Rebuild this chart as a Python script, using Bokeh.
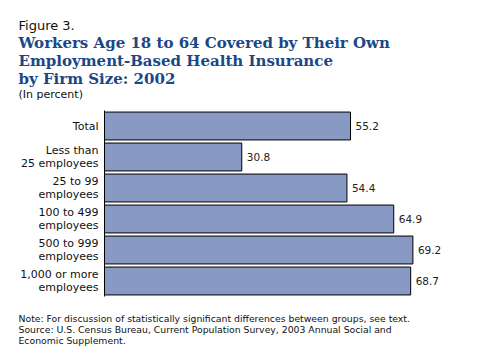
from bokeh.plotting import figure
from bokeh.models import ColumnDataSource, FactorRange, Range1d
from bokeh.layouts import column
from bokeh.embed import file_html
from bokeh.resources import INLINE
from bokeh.core.properties import value

categories = ["Total", "Less than\n25 employees", "25 to 99\nemployees",
              "100 to 499\nemployees", "500 to 999\nemployees",
              "1,000 or more\nemployees"]
values = [55.2, 30.8, 54.4, 64.9, 69.2, 68.7]
value_labels = [f"{v:.1f}" for v in values]

fig_label = "Figure 3."
title_lines = ["Workers Age 18 to 64 Covered by Their Own",
               "Employment-Based Health Insurance",
               "by Firm Size: 2002"]
unit_note = "(In percent)"
foot_lines = ["Note: For discussion of statistically significant differences between groups, see text.",
              "Source: U.S. Census Bureau, Current Population Survey, 2003 Annual Social and",
              "Economic Supplement."]

W = 470
TCOL = "#1A4887"
SANS = "DejaVu Sans"


def text_panel(h):
    f = figure(width=W, height=h, output_backend="svg", toolbar_location=None,
               x_range=Range1d(0, W), y_range=Range1d(h, 0),
               min_border=0, min_border_left=0, min_border_right=0,
               min_border_top=0, min_border_bottom=0, frame_align=False)
    f.axis.visible = False
    f.grid.visible = False
    f.outline_line_color = None
    f.background_fill_color = "white"
    f.border_fill_color = "white"
    return f


def put(f, txt, x, y, size, color="#111111", font=SANS, style="normal"):
    f.text(x=[x], y=[y], text=[txt], text_font=value(font), text_font_size=size,
           text_color=color, text_font_style=style, text_baseline="alphabetic",
           text_align="left")


# header
head = text_panel(100)
put(head, fig_label, 18, 25, "13px")
for i, t in enumerate(title_lines):
    put(head, t, 18, 42 + 18 * i, "15px", TCOL, "DejaVu Serif", "bold")
put(head, unit_note, 18, 94, "11px")

# main chart
src = ColumnDataSource(dict(cat=categories, val=values, lab=value_labels))
p = figure(width=W, height=200, output_backend="svg", toolbar_location=None,
           y_range=FactorRange(factors=list(reversed(categories)), range_padding=0),
           x_range=Range1d(0, 81.9), frame_align=False,
           min_border_left=104, min_border_right=1, min_border_top=10,
           min_border_bottom=4)
p.outline_line_color = None
p.xgrid.visible = False
p.ygrid.visible = False
p.xaxis.visible = False
p.background_fill_color = "white"
p.border_fill_color = "white"

p.hbar(y="cat", right="val", left=0, height=0.9, source=src,
       fill_color="#8899C4", line_color="black", line_width=1)
p.text(x="val", y="cat", text="lab", source=src, x_offset=5,
       text_align="left", text_baseline="middle", text_font_size="10.5px",
       text_color="#222222", text_font=value(SANS))

ya = p.yaxis[0]
ya.axis_line_color = "black"
ya.axis_line_width = 1
ya.major_tick_line_color = None
ya.minor_tick_line_color = None
ya.major_tick_out = 0
ya.major_tick_in = 0
ya.major_label_standoff = 6
ya.major_label_text_font = SANS
ya.major_label_text_font_size = "11px"
ya.major_label_text_color = "#111111"
ya.major_label_text_line_height = 1.0

# footer
foot = text_panel(47)
for i, t in enumerate(foot_lines):
    put(foot, t, 18, 18 + 11 * i, "9.3px")

layout = column(head, p, foot, spacing=0)
open("out.html", "w").write(file_html(layout, INLINE))
